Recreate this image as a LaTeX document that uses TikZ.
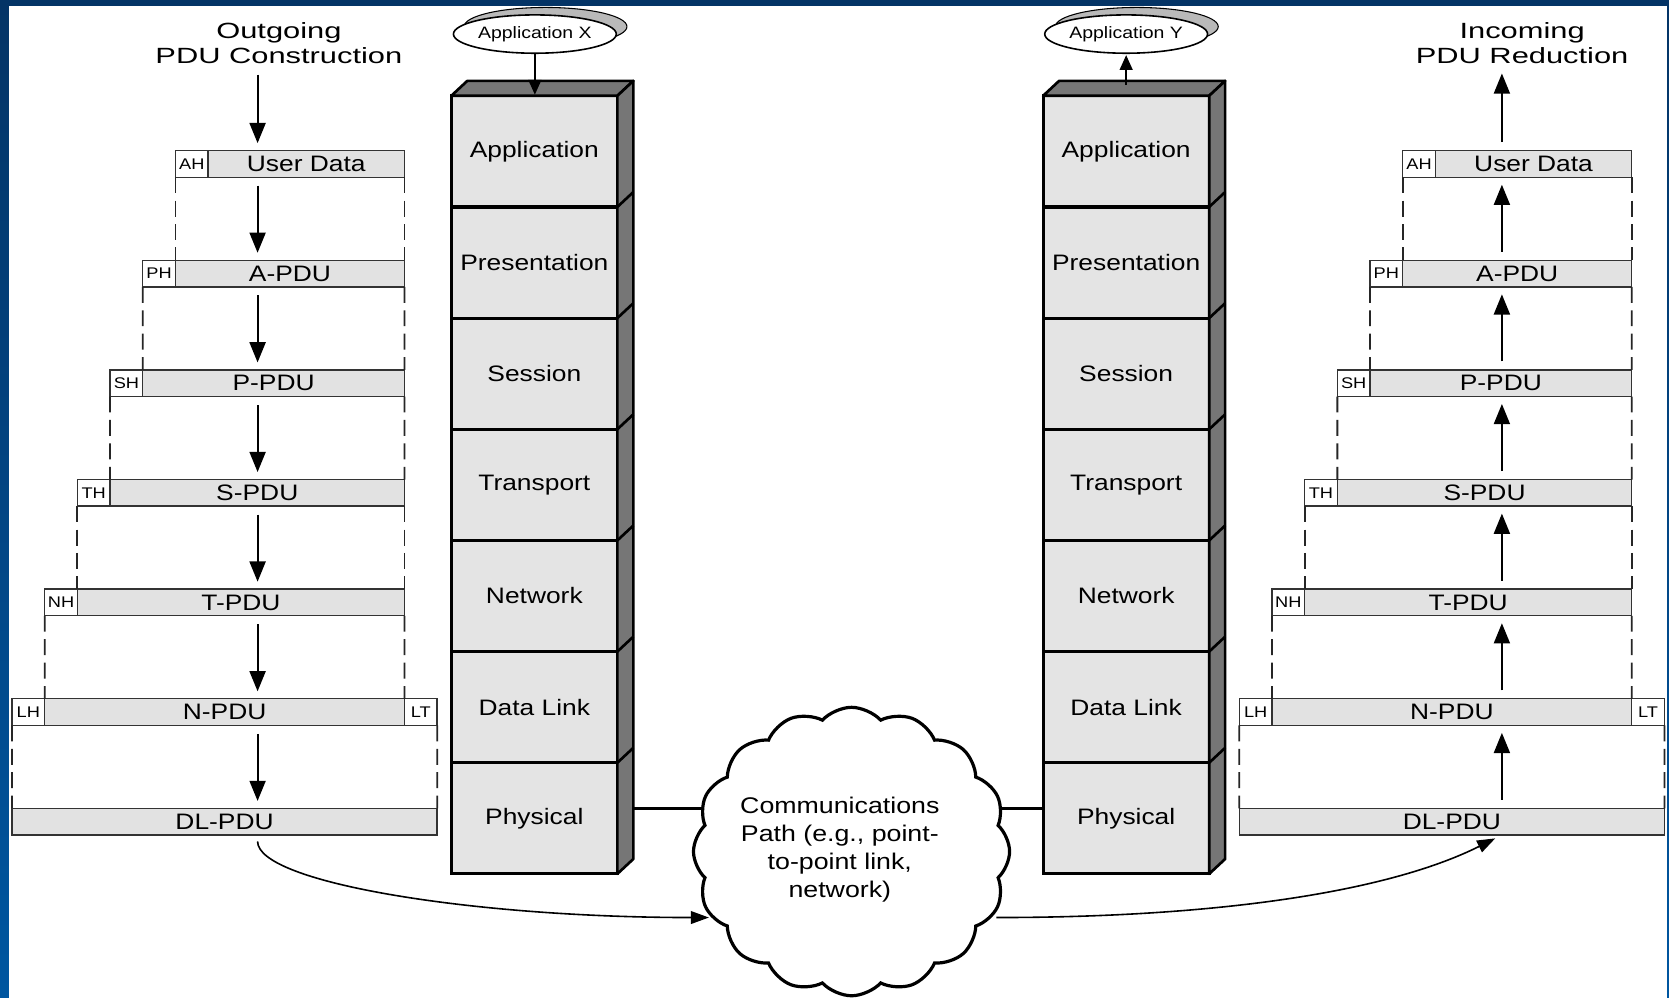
\documentclass[tikz,border=0pt]{standalone}
\usepackage{fontspec}
\setmainfont[FakeStretch=1.18]{Liberation Sans}
\newfontfamily\headfont[FakeStretch=1.4]{Liberation Sans}
\usepackage{tikz}
\usetikzlibrary{shapes.geometric, shapes.symbols, arrows.meta, positioning}
\pgfdeclarelayer{page}
\pgfdeclarelayer{wire}
\pgfsetlayers{page,wire,main}
\definecolor{navy}{RGB}{4,52,102}
\definecolor{slideblue}{RGB}{0,86,160}
\definecolor{facegray}{RGB}{228,228,228}
\definecolor{sidegray}{RGB}{118,118,118}
\definecolor{bargray}{RGB}{226,226,226}
\tikzstyle{layer} = [rectangle, draw=black, line width=3pt, fill=facegray, minimum width=156pt, minimum height=104.43pt, inner sep=0pt, outer sep=0pt, font=\fontsize{21}{25}\selectfont]
\tikzstyle{face} = [draw=black, line width=2.5pt, line join=round, fill=sidegray]
\tikzstyle{pdu} = [rectangle, draw=black!80, line width=1.3pt, fill=bargray, minimum height=25pt, inner sep=0pt, outer sep=0pt, font=\fontsize{21}{25}\selectfont]
\tikzstyle{hdr} = [pdu, fill=white, minimum width=30.7pt, font=\fontsize{14.5}{16}\selectfont]
\tikzstyle{title} = [align=center, inner sep=2pt, font=\headfont\fontsize{20.7}{23.5}\selectfont]
\tikzstyle{app} = [ellipse, draw=black, line width=1.5pt, fill=white, minimum width=153pt, minimum height=36pt, inner sep=0pt, font=\fontsize{15.5}{18}\selectfont, preaction={fill=gray!55, draw=black, line width=1pt, transform canvas={shift={(10pt,7pt)}}}]
\tikzstyle{cloudbox} = [cloud, draw=black, line width=3pt, fill=white, cloud puffs=16, cloud puff arc=95, cloud ignores aspect, minimum width=297pt, minimum height=271pt, inner sep=0pt]
\tikzstyle{arrow} = [line width=2pt, -{Triangle[length=19pt, width=15pt]}, shorten <=8pt, shorten >=7pt]
\tikzstyle{pass} = [line width=1.5pt, -{Triangle[length=17pt, width=12pt]}]
\tikzstyle{gap} = [draw=black!85, line width=1.7pt, dash pattern=on 15pt off 7pt]
\tikzstyle{link} = [line width=3pt]

\begin{document}
\begin{tikzpicture}[x=1pt, y=1pt]
  \begin{pgfonlayer}{page}
    \shade[top color=navy, bottom color=slideblue] (0,0) rectangle (1568,-937);
    \fill[white] (8.5,-5.6) rectangle (1566,-937.5);
  \end{pgfonlayer}
  \useasboundingbox (0,0) rectangle (1568,-937);

  \coordinate (lcol) at (242,0);
  \coordinate (rcol) at (1411,0);

  % titles
  \node[title, anchor=south] (ltitle) at (262,-62) {Outgoing\\PDU Construction};
  \node[title, anchor=south] (rtitle) at (1430,-62) {Incoming\\PDU Reduction};

  % sending stack
  \node[layer] (lapp) at (502,-142.2) {Application};
  \node[layer, below=0pt of lapp] (lpre) {Presentation};
  \node[layer, below=0pt of lpre] (lses) {Session};
  \node[layer, below=0pt of lses] (ltrn) {Transport};
  \node[layer, below=0pt of ltrn] (lnet) {Network};
  \node[layer, below=0pt of lnet] (llnk) {Data Link};
  \node[layer, below=0pt of llnk] (lphy) {Physical};
  \draw[face] (lapp.north west) -- ++(15,14) -- ++(156,0) -- (lapp.north east) -- cycle;
  \draw[face] (lapp.north east) -- ++(15,14) -- ([shift={(15,14)}]lphy.south east) -- (lphy.south east) -- cycle;
  \foreach \n in {lapp,lpre,lses,ltrn,lnet,llnk}
    \draw[face] (\n.south east) -- ++(15,14);

  % receiving stack
  \node[layer] (rapp) at (1058,-142.2) {Application};
  \node[layer, below=0pt of rapp] (rpre) {Presentation};
  \node[layer, below=0pt of rpre] (rses) {Session};
  \node[layer, below=0pt of rses] (rtrn) {Transport};
  \node[layer, below=0pt of rtrn] (rnet) {Network};
  \node[layer, below=0pt of rnet] (rlnk) {Data Link};
  \node[layer, below=0pt of rlnk] (rphy) {Physical};
  \draw[face] (rapp.north west) -- ++(15,14) -- ++(156,0) -- (rapp.north east) -- cycle;
  \draw[face] (rapp.north east) -- ++(15,14) -- ([shift={(15,14)}]rphy.south east) -- (rphy.south east) -- cycle;
  \foreach \n in {rapp,rpre,rses,rtrn,rnet,rlnk}
    \draw[face] (\n.south east) -- ++(15,14);

  % applications
  \node[app] (appx) at (502.5,-32) {Application X};
  \node[app] (appy) at (1058,-32) {Application Y};
  \draw[arrow, -{Triangle[length=14pt, width=12pt]}, shorten <=0pt, shorten >=1pt] (appx.south) -- (appx.south |- lapp.north);
  \draw[arrow, -{Triangle[length=14pt, width=12pt]}, shorten <=10pt, shorten >=1pt] (rapp.north -| appy) -- (appy.south);

  % outgoing PDUs
  \node[pdu, anchor=east, minimum width=184.5pt] (lud) at (380,-154) {User Data};
  \node[hdr, anchor=east] (lah) at (lud.west) {AH};
  \node[pdu, anchor=east, minimum width=215.2pt] (lapdu) at (380,-257) {A-PDU};
  \node[hdr, anchor=east] (lph) at (lapdu.west) {PH};
  \node[pdu, anchor=east, minimum width=245.9pt] (lppdu) at (380,-360) {P-PDU};
  \node[hdr, anchor=east] (lsh) at (lppdu.west) {SH};
  \node[pdu, anchor=east, minimum width=276.6pt] (lspdu) at (380,-463) {S-PDU};
  \node[hdr, anchor=east] (lth) at (lspdu.west) {TH};
  \node[pdu, anchor=east, minimum width=307.3pt] (ltpdu) at (380,-566) {T-PDU};
  \node[hdr, anchor=east] (lnh) at (ltpdu.west) {NH};
  \node[pdu, anchor=east, minimum width=338pt] (lnpdu) at (380,-669) {N-PDU};
  \node[hdr, anchor=east] (llh) at (lnpdu.west) {LH};
  \node[hdr, anchor=west] (llt) at (lnpdu.east) {LT};
  \node[pdu, anchor=east, minimum width=399.4pt] (ldlpdu) at (410.7,-772) {DL-PDU};

  \draw[gap] (lah.south west) -- (lapdu.north west) (lud.south east) -- (lapdu.north east);
  \draw[gap] (lph.south west) -- (lppdu.north west) (lapdu.south east) -- (lppdu.north east);
  \draw[gap] (lsh.south west) -- (lspdu.north west) (lppdu.south east) -- (lspdu.north east);
  \draw[gap] (lth.south west) -- (ltpdu.north west) (lspdu.south east) -- (ltpdu.north east);
  \draw[gap] (lnh.south west) -- (lnpdu.north west) (ltpdu.south east) -- (lnpdu.north east);
  \draw[gap] (llh.south west) -- (ldlpdu.north west) (llt.south east) -- (ldlpdu.north east);

  \draw[arrow] (ltitle.south -| lcol) -- (lud.north -| lcol);
  \draw[arrow] (lud.south -| lcol) -- (lapdu.north -| lcol);
  \draw[arrow] (lapdu.south -| lcol) -- (lppdu.north -| lcol);
  \draw[arrow] (lppdu.south -| lcol) -- (lspdu.north -| lcol);
  \draw[arrow] (lspdu.south -| lcol) -- (ltpdu.north -| lcol);
  \draw[arrow] (ltpdu.south -| lcol) -- (lnpdu.north -| lcol);
  \draw[arrow] (lnpdu.south -| lcol) -- (ldlpdu.north -| lcol);

  % incoming PDUs
  \node[pdu, anchor=east, minimum width=184.5pt] (rud) at (1533,-154) {User Data};
  \node[hdr, anchor=east] (rah) at (rud.west) {AH};
  \node[pdu, anchor=east, minimum width=215.2pt] (rapdu) at (1533,-257) {A-PDU};
  \node[hdr, anchor=east] (rph) at (rapdu.west) {PH};
  \node[pdu, anchor=east, minimum width=245.9pt] (rppdu) at (1533,-360) {P-PDU};
  \node[hdr, anchor=east] (rsh) at (rppdu.west) {SH};
  \node[pdu, anchor=east, minimum width=276.6pt] (rspdu) at (1533,-463) {S-PDU};
  \node[hdr, anchor=east] (rth) at (rspdu.west) {TH};
  \node[pdu, anchor=east, minimum width=307.3pt] (rtpdu) at (1533,-566) {T-PDU};
  \node[hdr, anchor=east] (rnh) at (rtpdu.west) {NH};
  \node[pdu, anchor=east, minimum width=338pt] (rnpdu) at (1533,-669) {N-PDU};
  \node[hdr, anchor=east] (rlh) at (rnpdu.west) {LH};
  \node[hdr, anchor=west] (rlt) at (rnpdu.east) {LT};
  \node[pdu, anchor=east, minimum width=399.4pt] (rdlpdu) at (1563.7,-772) {DL-PDU};

  \draw[gap] (rah.south west) -- (rapdu.north west) (rud.south east) -- (rapdu.north east);
  \draw[gap] (rph.south west) -- (rppdu.north west) (rapdu.south east) -- (rppdu.north east);
  \draw[gap] (rsh.south west) -- (rspdu.north west) (rppdu.south east) -- (rspdu.north east);
  \draw[gap] (rth.south west) -- (rtpdu.north west) (rspdu.south east) -- (rtpdu.north east);
  \draw[gap] (rnh.south west) -- (rnpdu.north west) (rtpdu.south east) -- (rnpdu.north east);
  \draw[gap] (rlh.south west) -- (rdlpdu.north west) (rlt.south east) -- (rdlpdu.north east);

  \draw[arrow] (rdlpdu.north -| rcol) -- (rnpdu.south -| rcol);
  \draw[arrow] (rnpdu.north -| rcol) -- (rtpdu.south -| rcol);
  \draw[arrow] (rtpdu.north -| rcol) -- (rspdu.south -| rcol);
  \draw[arrow] (rspdu.north -| rcol) -- (rppdu.south -| rcol);
  \draw[arrow] (rppdu.north -| rcol) -- (rapdu.south -| rcol);
  \draw[arrow] (rapdu.north -| rcol) -- (rud.south -| rcol);
  \draw[arrow] (rud.north -| rcol) -- (rtitle.south -| rcol);

  % communications path
  \node[cloudbox] (cloud) at (800,-800) {};
  \node[align=center, inner sep=0pt, font=\fontsize{21.3}{26.4}\selectfont] (pathtext) at (789,-798) {Communications\\Path (e.g., point-\\to-point link,\\network)};
  \begin{pgfonlayer}{wire}
    \draw[link] ([yshift=9.3pt]lphy.east) -- ([yshift=9.3pt]rphy.west);
  \end{pgfonlayer}
  \draw[pass, shorten <=6pt] (ldlpdu.south -| lcol) .. controls +(0,-45) and +(-220,0) .. ([shift={(16pt,-62pt)}]cloud.west);
  \draw[pass, shorten >=7pt] ([shift={(-14pt,-62pt)}]cloud.east) .. controls +(200,0) and +(-110,-55) .. (rdlpdu.south -| rcol);
\end{tikzpicture}
\end{document}
